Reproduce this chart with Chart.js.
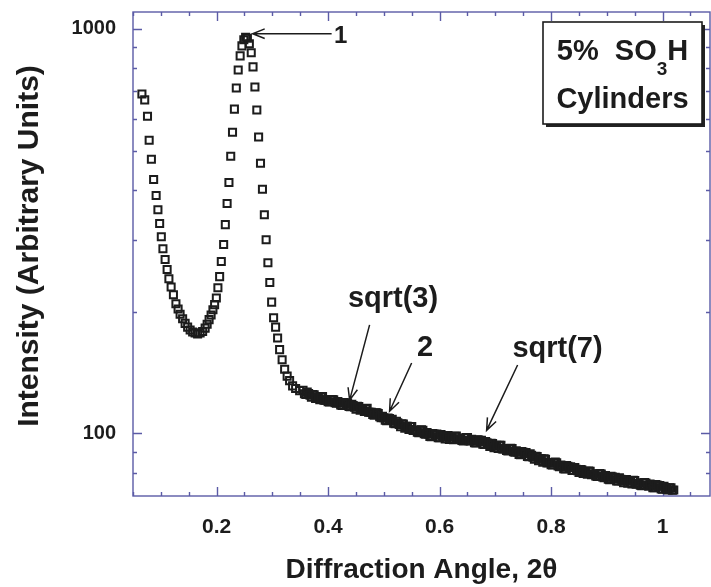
<!DOCTYPE html>
<html>
<head>
<meta charset="utf-8">
<script src="https://cdn.jsdelivr.net/npm/chart.js@4/dist/chart.umd.min.js"></script>
<style>
  html, body { margin: 0; padding: 0; background: #fff; }
</style>
</head>
<body>
<canvas id="saxs" width="711" height="587"></canvas>
<script>
// scattering curve: 2theta vs intensity
const anglePeak = [0.066, 0.071, 0.076, 0.079, 0.083, 0.087, 0.0915, 0.0947, 0.0978, 0.1008,
  0.1037, 0.1076, 0.1112, 0.1144, 0.1184, 0.1225, 0.127, 0.1309, 0.1345, 0.139,
  0.1435, 0.148, 0.1525, 0.157, 0.1614, 0.1659, 0.1704, 0.1749, 0.1794, 0.183,
  0.1865, 0.1901, 0.1934, 0.1964, 0.1995, 0.2023, 0.2054, 0.2084, 0.2126, 0.2156,
  0.2188, 0.2221, 0.2253, 0.2285, 0.2319, 0.2353, 0.2387, 0.2422, 0.2454, 0.2488,
  0.252, 0.2552, 0.2587, 0.2621, 0.2653, 0.2687, 0.2721, 0.2753, 0.2787, 0.2822,
  0.2856, 0.2888, 0.292, 0.2954, 0.2987, 0.3022, 0.3058, 0.3094, 0.313, 0.3175,
  0.322, 0.3265, 0.3309, 0.3363, 0.3417, 0.3489];
const intensityPeak = [690, 667, 608, 530, 476, 424, 387, 357, 330, 306,
  286, 269, 254, 241, 230, 220, 209, 203, 197, 192,
  187, 183, 180, 178, 177, 176, 177, 178.5, 182, 186,
  191, 196, 202, 208, 216, 229, 244, 266, 293, 328,
  370, 417, 484, 555, 633, 714, 791, 857, 907, 939,
  953, 947, 918, 872, 805, 718, 630, 540, 465, 401,
  347, 301, 264, 236, 211, 193, 183, 172, 161, 152,
  144, 138.5, 135, 131, 129, 127.5];

const angleTail = [0.355, 0.36, 0.365, 0.37, 0.375, 0.38, 0.385, 0.39, 0.395, 0.4,
  0.405, 0.41, 0.415, 0.42, 0.425, 0.43, 0.435, 0.44, 0.445, 0.45,
  0.455, 0.46, 0.465, 0.47, 0.475, 0.48, 0.485, 0.49, 0.495, 0.5,
  0.505, 0.51, 0.515, 0.52, 0.525, 0.53, 0.535, 0.54, 0.545, 0.55,
  0.555, 0.56, 0.565, 0.57, 0.575, 0.58, 0.585, 0.59, 0.595, 0.6,
  0.605, 0.61, 0.615, 0.62, 0.625, 0.63, 0.635, 0.64, 0.645, 0.65,
  0.655, 0.66, 0.665, 0.67, 0.675, 0.68, 0.685, 0.69, 0.695, 0.7,
  0.705, 0.71, 0.715, 0.72, 0.725, 0.73, 0.735, 0.74, 0.745, 0.75,
  0.755, 0.76, 0.765, 0.77, 0.775, 0.78, 0.785, 0.79, 0.795, 0.8,
  0.805, 0.81, 0.815, 0.82, 0.825, 0.83, 0.835, 0.84, 0.845, 0.85,
  0.855, 0.86, 0.865, 0.87, 0.875, 0.88, 0.885, 0.89, 0.895, 0.9,
  0.905, 0.91, 0.915, 0.92, 0.925, 0.93, 0.935, 0.94, 0.945, 0.95,
  0.955, 0.96, 0.965, 0.97, 0.975, 0.98, 0.985, 0.99, 0.995, 1.0,
  1.005, 1.01, 1.015, 1.02];
const intensityTail = [127.8, 124.8, 125.5, 122.8, 124.6, 122.9, 121.0, 123.3, 120.7, 119.7,
  121.1, 121.1, 118.7, 119.0, 117.2, 119.0, 118.8, 116.3, 117.1, 114.7,
  116.5, 115.2, 113.3, 115.3, 112.7, 111.3, 112.4, 112.0, 109.3, 109.3,
  107.4, 108.8, 108.3, 105.6, 106.2, 103.9, 105.5, 104.1, 102.2, 104.0,
  101.7, 100.7, 101.8, 101.7, 99.5, 99.6, 98.1, 99.6, 99.6, 97.6,
  98.6, 96.8, 98.7, 97.8, 96.4, 98.5, 96.7, 96.0, 97.4, 97.6,
  95.7, 96.0, 94.6, 96.2, 96.1, 93.9, 94.7, 92.8, 94.3, 93.3,
  91.8, 93.4, 91.5, 90.7, 91.7, 91.7, 89.8, 89.9, 88.5, 89.8,
  89.6, 87.6, 88.2, 86.3, 87.6, 86.5, 84.9, 86.3, 84.6, 83.7,
  84.7, 84.6, 82.7, 82.8, 81.6, 82.9, 82.7, 80.9, 81.5, 80.0,
  81.3, 80.5, 79.2, 80.6, 79.1, 78.4, 79.4, 79.3, 77.7, 77.9,
  76.8, 78.0, 77.9, 76.2, 77.0, 75.5, 76.9, 76.2, 75.0, 76.4,
  75.1, 74.4, 75.5, 75.4, 74.0, 74.3, 73.4, 74.5, 74.3, 72.8,
  73.5, 72.4, 73.3, 72.4];

// the tail is sampled twice as densely as the list above; these are the in-between readings
const angleTailMid = [0.3575, 0.3625, 0.3675, 0.3725, 0.3775, 0.3825, 0.3875, 0.3925, 0.3975, 0.4025,
  0.4075, 0.4125, 0.4175, 0.4225, 0.4275, 0.4325, 0.4375, 0.4425, 0.4475, 0.4525,
  0.4575, 0.4625, 0.4675, 0.4725, 0.4775, 0.4825, 0.4875, 0.4925, 0.4975, 0.5025,
  0.5075, 0.5125, 0.5175, 0.5225, 0.5275, 0.5325, 0.5375, 0.5425, 0.5475, 0.5525,
  0.5575, 0.5625, 0.5675, 0.5725, 0.5775, 0.5825, 0.5875, 0.5925, 0.5975, 0.6025,
  0.6075, 0.6125, 0.6175, 0.6225, 0.6275, 0.6325, 0.6375, 0.6425, 0.6475, 0.6525,
  0.6575, 0.6625, 0.6675, 0.6725, 0.6775, 0.6825, 0.6875, 0.6925, 0.6975, 0.7025,
  0.7075, 0.7125, 0.7175, 0.7225, 0.7275, 0.7325, 0.7375, 0.7425, 0.7475, 0.7525,
  0.7575, 0.7625, 0.7675, 0.7725, 0.7775, 0.7825, 0.7875, 0.7925, 0.7975, 0.8025,
  0.8075, 0.8125, 0.8175, 0.8225, 0.8275, 0.8325, 0.8375, 0.8425, 0.8475, 0.8525,
  0.8575, 0.8625, 0.8675, 0.8725, 0.8775, 0.8825, 0.8875, 0.8925, 0.8975, 0.9025,
  0.9075, 0.9125, 0.9175, 0.9225, 0.9275, 0.9325, 0.9375, 0.9425, 0.9475, 0.9525,
  0.9575, 0.9625, 0.9675, 0.9725, 0.9775, 0.9825, 0.9875, 0.9925, 0.9975, 1.0025,
  1.0075, 1.0125, 1.0175];
const intensityTailMid = [125.3, 126.5, 124.3, 124.7, 121.9, 123.0, 123.0, 120.8, 121.0, 119.5,
  121.2, 119.1, 119.8, 117.6, 119.2, 118.1, 116.5, 118.0, 116.0, 116.6,
  114.0, 115.2, 115.1, 112.8, 112.7, 110.9, 112.4, 109.9, 110.2, 107.8,
  109.1, 107.8, 105.9, 107.1, 105.1, 105.6, 103.0, 104.1, 104.0, 101.7,
  101.8, 100.3, 102.0, 99.8, 100.4, 98.3, 99.9, 99.0, 97.6, 99.3,
  97.8, 98.7, 96.6, 98.0, 98.3, 96.5, 97.0, 95.8, 97.7, 95.9,
  96.7, 94.8, 96.4, 95.5, 94.0, 95.5, 93.8, 94.5, 92.2, 93.4,
  93.4, 91.5, 91.7, 90.4, 91.9, 90.1, 90.6, 88.7, 90.1, 89.2,
  87.7, 89.0, 87.3, 87.8, 85.6, 86.5, 86.5, 84.5, 84.7, 83.5,
  84.9, 83.1, 83.5, 81.8, 83.2, 82.3, 81.0, 82.3, 80.8, 81.4,
  79.6, 80.6, 80.7, 79.0, 79.3, 78.2, 79.6, 78.0, 78.6, 77.0,
  78.3, 77.4, 76.3, 77.6, 76.3, 76.9, 75.3, 76.3, 76.5, 74.9,
  75.3, 74.2, 75.6, 74.3, 74.9, 73.4, 74.7, 74.0, 72.9, 74.0,
  72.8, 73.3, 72.3];

const xTickLabels = [0.2, 0.4, 0.6, 0.8, 1];
const xTickMarks = [0.05, 0.1, 0.15, 0.2, 0.25, 0.3, 0.35, 0.4, 0.45, 0.5, 0.55,
  0.6, 0.65, 0.7, 0.75, 0.8, 0.85, 0.9, 0.95, 1, 1.05];
const yTickLabels = [100, 1000];
const yTickMarks = [80, 90, 100, 200, 300, 400, 500, 600, 700, 800, 900, 1000];

const noteLabels = ['1', 'sqrt(3)', '2', 'sqrt(7)'];
// arrow tip, arrow tail and text centre, in data units
const noteLayout = [
  { tip: [0.2646, 972], tail: [0.4063, 972], text: [0.4224, 955], size: 24 },
  { tip: [0.4386, 120.8], tail: [0.4744, 185.4], text: [0.5164, 214.8], size: 29 },
  { tip: [0.5103, 113.4], tail: [0.5498, 149.2], text: [0.5738, 162.5], size: 29 },
  { tip: [0.6843, 101.7], tail: [0.7399, 147.5], text: [0.8115, 161.2], size: 29 }
];

const FONT = "'Liberation Sans', Arial, Helvetica, sans-serif";
const INK = '#1c1c1c';
const AXIS = '#5b5ba6';

const allAngles = anglePeak.concat(angleTail, angleTailMid);
const allIntensity = intensityPeak.concat(intensityTail, intensityTailMid);
const points = allAngles.map((a, i) => ({ x: a, y: allIntensity[i] }));

const frameTicks = {
  id: 'frameTicks',
  beforeDatasetsDraw(chart) {
    const { ctx, chartArea: a, scales: { x, y } } = chart;
    ctx.save();
    ctx.strokeStyle = AXIS;
    ctx.lineWidth = 1.4;
    ctx.strokeRect(a.left, a.top, a.right - a.left, a.bottom - a.top);
    ctx.beginPath();
    xTickMarks.forEach(v => {
      const px = Math.round(x.getPixelForValue(v)) + 0.5;
      const len = xTickLabels.some(t => Math.abs(t - v) < 1e-6) ? 9 : 4;
      ctx.moveTo(px, a.bottom); ctx.lineTo(px, a.bottom - len);
      ctx.moveTo(px, a.top); ctx.lineTo(px, a.top + len);
    });
    yTickMarks.forEach(v => {
      const py = Math.round(y.getPixelForValue(v)) + 0.5;
      const len = yTickLabels.includes(v) ? 9 : 4;
      ctx.moveTo(a.left, py); ctx.lineTo(a.left + len, py);
      ctx.moveTo(a.right, py); ctx.lineTo(a.right - len, py);
    });
    ctx.stroke();
    ctx.restore();
  }
};

function arrow(ctx, x0, y0, x1, y1) {
  const ang = Math.atan2(y1 - y0, x1 - x0);
  const head = 13, spread = 0.38;
  ctx.beginPath();
  ctx.moveTo(x0, y0);
  ctx.lineTo(x1, y1);
  ctx.moveTo(x1 - head * Math.cos(ang - spread), y1 - head * Math.sin(ang - spread));
  ctx.lineTo(x1, y1);
  ctx.lineTo(x1 - head * Math.cos(ang + spread), y1 - head * Math.sin(ang + spread));
  ctx.stroke();
}

const notesAndKey = {
  id: 'notesAndKey',
  afterDatasetsDraw(chart) {
    const { ctx, chartArea: a, scales: { x, y } } = chart;
    ctx.save();
    ctx.strokeStyle = INK;
    ctx.fillStyle = INK;
    ctx.lineWidth = 1.5;
    ctx.textAlign = 'center';
    ctx.textBaseline = 'middle';
    noteLayout.forEach((n, i) => {
      arrow(ctx, x.getPixelForValue(n.tail[0]), y.getPixelForValue(n.tail[1]),
        x.getPixelForValue(n.tip[0]), y.getPixelForValue(n.tip[1]));
      ctx.font = 'bold ' + n.size + 'px ' + FONT;
      ctx.fillText(noteLabels[i], x.getPixelForValue(n.text[0]), y.getPixelForValue(n.text[1]));
    });

    // y axis title, centred a little above the plot middle as in the original
    ctx.save();
    ctx.translate(30, 246);
    ctx.rotate(-Math.PI / 2);
    ctx.font = 'bold 30px ' + FONT;
    ctx.fillText('Intensity (Arbitrary Units)', 0, 0);
    ctx.restore();

    // sample key box with drop shadow
    const bx = a.right - 167, by = a.top + 10, bw = 159, bh = 102;
    ctx.fillStyle = '#222';
    ctx.fillRect(bx + 3, by + 3, bw, bh);
    ctx.fillStyle = '#fff';
    ctx.fillRect(bx, by, bw, bh);
    ctx.lineWidth = 1.6;
    ctx.strokeRect(bx, by, bw, bh);
    ctx.fillStyle = INK;
    ctx.textAlign = 'left';
    ctx.textBaseline = 'alphabetic';
    const big = 'bold 29px ' + FONT, small = 'bold 19px ' + FONT;
    ctx.font = big;
    const w1 = ctx.measureText('5%  SO').width, wH = ctx.measureText('H').width;
    ctx.font = small;
    const w3 = ctx.measureText('3').width;
    let cx = bx + bw / 2 - (w1 + w3 + wH) / 2;
    const base1 = by + 38;
    ctx.font = big;
    ctx.fillText('5%  SO', cx, base1);
    cx += w1;
    ctx.font = small;
    ctx.fillText('3', cx, base1 + 15);
    cx += w3;
    ctx.font = big;
    ctx.fillText('H', cx, base1);
    ctx.textAlign = 'center';
    ctx.fillText('Cylinders', bx + bw / 2, by + 86);
    ctx.restore();
  }
};

new Chart(document.getElementById('saxs'), {
  type: 'scatter',
  data: {
    datasets: [{
      data: points,
      pointStyle: 'rect',
      pointRadius: 5,
      pointBorderWidth: 2,
      borderColor: INK,
      backgroundColor: 'rgba(255,255,255,0)'
    }]
  },
  options: {
    responsive: false,
    animation: false,
    layout: { autoPadding: false, padding: { left: 0, right: 1, top: 12, bottom: 0 } },
    plugins: {
      legend: { display: false },
      tooltip: { enabled: false }
    },
    scales: {
      x: {
        type: 'linear',
        min: 0.05,
        max: 1.085,
        grid: { display: false, drawTicks: false },
        border: { display: false },
        afterBuildTicks: s => { s.ticks = xTickLabels.map(v => ({ value: v })); },
        afterFit: s => { s.height = 91; s.paddingLeft = 0; s.paddingRight = 0; },
        ticks: {
          autoSkip: false,
          maxRotation: 0,
          padding: 19,
          color: INK,
          font: { family: FONT, size: 21, weight: 'bold' },
          callback: v => String(v)
        },
        title: {
          display: true,
          text: 'Diffraction Angle, 2θ',
          color: INK,
          font: { family: FONT, size: 28, weight: 'bold' },
          padding: { top: 0, bottom: 0 }
        }
      },
      y: {
        type: 'logarithmic',
        min: 70,
        max: 1100,
        grid: { display: false, drawTicks: false },
        border: { display: false },
        afterBuildTicks: s => { s.ticks = yTickLabels.map(v => ({ value: v })); },
        afterFit: s => { s.width = 133; s.paddingTop = 0; s.paddingBottom = 0; },
        ticks: {
          autoSkip: false,
          padding: 17,
          color: INK,
          font: { family: FONT, size: 20, weight: 'bold' },
          callback: v => String(v)
        },
        title: { display: false }
      }
    }
  },
  plugins: [frameTicks, notesAndKey]
});
</script>
</body>
</html>
